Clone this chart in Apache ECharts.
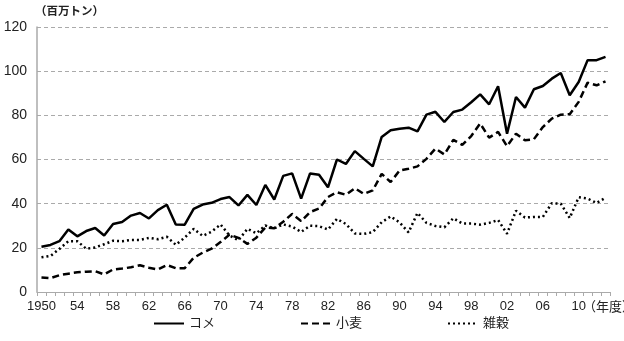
<!DOCTYPE html>
<html>
<head>
<meta charset="utf-8">
<script src="https://cdn.jsdelivr.net/npm/echarts@6/dist/echarts.min.js"></script>
<style>
html,body{margin:0;padding:0;background:#fff;}
#c{width:624px;height:341px;}
</style>
</head>
<body>
<div id="c"></div>
<script>
const years = [];
for (let y = 1950; y <= 2013; y++) years.push(String(y));
const tickLabels = ['1950','54','58','62','66','70','74','78','82','86','90','94','98','02','06','10'];
const seriesNames = ['コメ','小麦','雑穀'];
const rice = [20.5,21.3,23.0,28.3,25.2,27.6,29.0,25.6,30.8,31.7,34.6,35.8,33.3,37.1,39.5,30.6,30.5,37.6,39.6,40.4,42.1,43.0,39.2,44.0,39.4,48.5,41.9,52.6,53.7,42.3,53.7,53.1,47.4,60.0,58.0,63.8,60.3,56.9,70.2,73.2,73.9,74.4,72.7,80.3,81.6,77.0,81.5,82.6,85.9,89.5,85.0,93.2,71.7,88.3,83.5,91.8,93.3,96.6,99.2,89.1,95.1,105.0,105.0,106.5];
const wheat = [6.6,6.3,7.6,8.3,8.9,9.2,9.4,8.0,10.2,10.6,11.2,12.1,11.0,10.2,12.2,10.8,10.8,15.5,17.8,19.6,22.6,26.0,24.5,21.8,24.6,29.2,28.9,31.8,35.4,32.1,36.2,37.8,43.0,45.2,44.0,47.0,44.4,46.0,53.5,49.8,55.0,55.8,56.9,60.3,64.9,62.3,68.9,66.6,70.6,76.3,69.9,72.5,66.0,71.7,68.7,69.2,74.7,78.5,80.3,80.5,86.1,94.8,93.6,95.4];
const grains = [15.7,16.3,19.5,23.0,23.0,19.6,20.2,21.6,23.2,23.0,23.6,23.6,24.5,23.9,25.0,21.4,24.6,28.6,25.4,27.3,30.6,25.6,23.4,28.6,26.6,30.1,28.8,30.6,29.6,27.2,30.0,29.8,28.3,33.1,30.8,26.5,26.3,27.1,31.6,34.2,31.5,27.0,35.8,31.3,29.9,29.3,33.4,31.0,31.0,30.5,31.3,32.6,26.4,36.8,33.7,34.0,34.0,40.2,40.0,33.5,42.9,42.3,40.3,42.7];
const yTicks = [0,20,40,60,80,100,120];

const chart = echarts.init(document.getElementById('c'), null, {renderer:'canvas'});
const fontJP = '"Liberation Sans", "Noto Sans CJK JP", sans-serif';
chart.setOption({
  animation:false,
  backgroundColor:'#fff',
  textStyle:{fontFamily:fontJP},
  grid:{left:37,right:14,top:27,bottom:49,containLabel:false,outerBoundsMode:'none'},
  legend:{
    data:seriesNames,
    bottom:6,
    left:148,
    itemGap:85,
    itemWidth:30,
    itemHeight:10,
    itemStyle:{opacity:0},
    textStyle:{fontSize:13,color:'#222',fontFamily:fontJP},
  },
  xAxis:{
    type:'category',
    data:years,
    boundaryGap:true,
    name:'（年度）',
    nameLocation:'end',
    nameGap:-27,
    nameMoveOverlap:false,
    nameTextStyle:{fontSize:13,color:'#222',align:'left',verticalAlign:'top',padding:[9,0,0,0],fontFamily:fontJP},
    axisLine:{lineStyle:{color:'#aaa',width:1}},
    axisTick:{show:true,interval:0,length:4,lineStyle:{color:'#aaa'}},
    axisLabel:{
      interval:3,
      fontSize:13,
      color:'#222',
      margin:8,
      fontFamily:'"Liberation Sans Narrow","Liberation Sans",sans-serif',
      formatter:function(v, i){ return tickLabels[i/4] !== undefined ? tickLabels[i/4] : ''; }
    },
    splitLine:{show:false}
  },
  yAxis:{
    type:'value',
    min:yTicks[0],
    max:yTicks[yTicks.length-1],
    interval:20,
    name:'（百万トン）',
    nameLocation:'end',
    nameGap:9,
    nameTextStyle:{fontSize:11.5,color:'#222',fontWeight:'bold',align:'left',padding:[0,0,0,-2],fontFamily:fontJP},
    axisLine:{show:true,lineStyle:{color:'#aaa',width:1.5}},
    axisTick:{show:false},
    axisLabel:{fontSize:14,color:'#222',margin:10},
    splitLine:{show:true,lineStyle:{color:'#aaa',type:[4,3],width:1}}
  },
  series:[
    {name:seriesNames[0],type:'line',data:rice,symbol:'none',color:'#000',lineStyle:{color:'#000',width:2.5,type:'solid'}},
    {name:seriesNames[1],type:'line',data:wheat,symbol:'none',color:'#000',lineStyle:{color:'#000',width:2.5,type:[7,4]}},
    {name:seriesNames[2],type:'line',data:grains,symbol:'none',color:'#000',lineStyle:{color:'#000',width:2.5,type:[2,3]}}
  ]
});
</script>
</body>
</html>
